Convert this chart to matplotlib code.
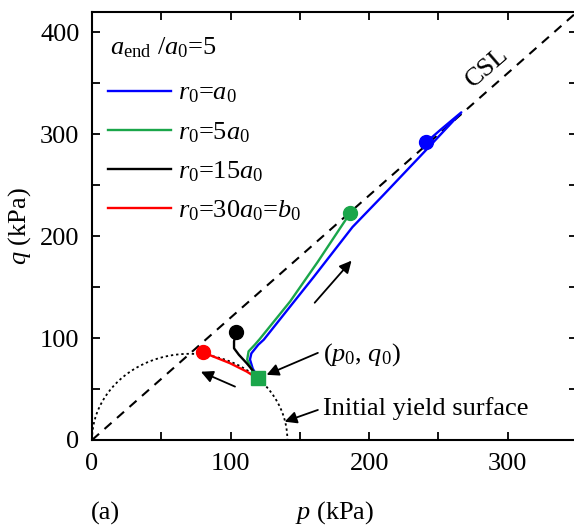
import numpy as np
import matplotlib.pyplot as plt

plt.rcParams['font.family'] = ['Liberation Serif', 'DejaVu Serif']
plt.rcParams['mathtext.fontset'] = 'custom'
plt.rcParams['mathtext.rm'] = 'Liberation Serif'
plt.rcParams['mathtext.it'] = 'Liberation Serif:italic'
plt.rcParams['font.size'] = 19

# critical state slope and initial preconsolidation pressure
M = 1.2
pc0 = 141.0

# stress paths (p, q) in kPa, starting from (p0, q0)
p_blue = [120, 116, 114, 115, 120, 124, 143, 160, 188, 210, 240, 266.5, 252, 241]
q_blue = [61, 70, 79, 85, 93.5, 98.5, 131, 160, 209, 240, 283, 321.5, 305, 292]
p_green = [120, 115, 112, 113, 117.5, 121, 143, 163, 184, 186.4]
q_green = [61, 70, 79, 87, 93.5, 99, 136, 175, 218, 222.9]
p_black = [120, 117.6, 111.6, 106, 102.5, 102.5, 103.8]
q_black = [61, 65.6, 75.4, 83.6, 90, 96.7, 105.9]
p_red = [120, 111.6, 99.5, 87.4, 80]
q_red = [60, 67.2, 75.4, 82, 86]

labels = [r'$r_0$=$a_0$', r'$r_0$=5$a_0$', r'$r_0$=15$a_0$', r'$r_0$=30$a_0$=$b_0$']
colors = ['#0000ff', '#1aa64a', '#000000', '#ff0000']

p0, q0 = 120, 60.5

fig = plt.figure(figsize=(5.74, 5.25), dpi=100)
ax = fig.add_axes([92 / 574, 85 / 525, 485 / 574, 428 / 525])

# critical state line
p_csl = np.array([0, 350])
ax.plot(p_csl, M * p_csl, color='k', lw=1.5, dashes=(4.5, 3.5), zorder=2)

# initial yield surface (modified Cam-Clay ellipse)
th = np.linspace(0, np.pi, 300)
p_ys = pc0 / 2 * (1 - np.cos(th))
q_ys = M * np.sqrt(np.clip(p_ys * (pc0 - p_ys), 0, None))
ax.plot(p_ys, q_ys, color='k', lw=1.3, linestyle=(0, (1.3, 1.6)), zorder=1)

paths = [(p_blue, q_blue), (p_green, q_green), (p_black, q_black), (p_red, q_red)]
for (pp, qq), c, lab in zip(paths, colors, labels):
    ax.plot(pp, qq, color=c, lw=1.7, label=lab, zorder=3)
    ax.plot(pp[-1], qq[-1], 'o', color=c, ms=10, zorder=4)

ax.plot(p0, q0, 's', color='#1aa64a', ms=10, zorder=5)

arrow = dict(arrowstyle='-|>', color='k', lw=1.3, mutation_scale=18, shrinkA=0, shrinkB=0)
ax.annotate('', xy=(187.3, 176), xytext=(160.7, 134.7), arrowprops=arrow)
ax.annotate('', xy=(78.6, 67), xytext=(103.2, 52.4), arrowprops=arrow)
ax.annotate('', xy=(126, 64), xytext=(163, 85.5), arrowprops=arrow)
ax.annotate('', xy=(139, 18), xytext=(163, 29.5), arrowprops=arrow)
ax.text(167, 84, r'($p_0$, $q_0$)', ha='left', va='center')
ax.text(167, 31, 'Initial yield surface', ha='left', va='center')
ax.text(285.5, 365.5, 'CSL', rotation=41, ha='center', va='center')

ax.set_xlim(0, 350)
ax.set_ylim(0, 420)
ax.set_xticks([0, 100, 200, 300])
ax.set_xticks([50, 150, 250], minor=True)
ax.set_yticks([0, 100, 200, 300, 400])
ax.set_yticks([50, 150, 250, 350], minor=True)
ax.tick_params(which='both', direction='in', top=True, right=True, length=5.5, width=1.3)
ax.tick_params(which='major', pad=9)
for s in ax.spines.values():
    s.set_linewidth(1.5)

ax.set_xlabel(r'$p$ (kPa)', labelpad=18)
ax.set_ylabel(r'$q$ (kPa)', labelpad=5)
fig.text(105 / 574, 1 - 513 / 525, '(a)', ha='center', va='center')

# legend title drawn on its own, entries below it
ax.text(0.037, 0.917, r'$a_{\rm end}$ /$a_0$=5', transform=ax.transAxes,
        ha='left', va='center')
ax.legend(loc='upper left', bbox_to_anchor=(0.033, 0.838), frameon=False,
          handlelength=2.4, handletextpad=0.25, labelspacing=0.55,
          borderaxespad=0, borderpad=0)

fig.savefig('out.png', dpi=100)
